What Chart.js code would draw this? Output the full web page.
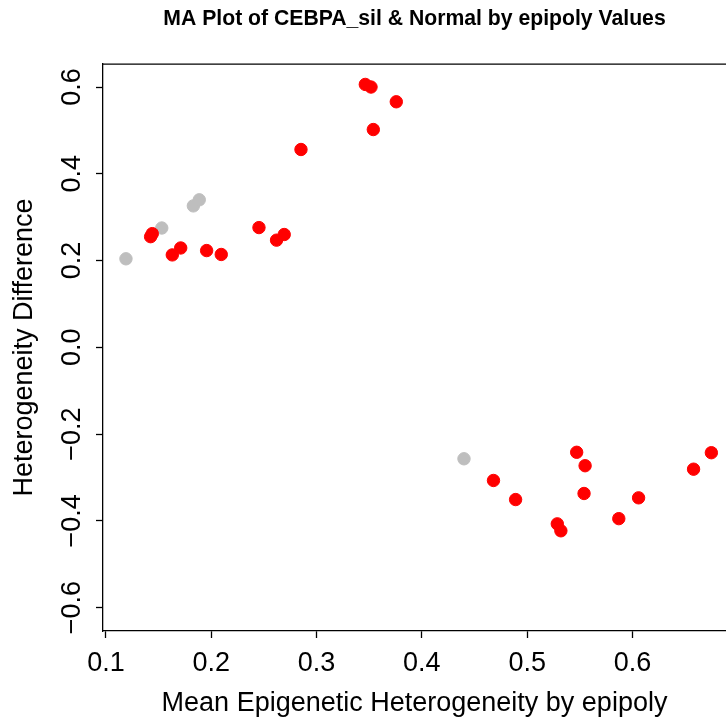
<!DOCTYPE html>
<html>
<head>
<meta charset="utf-8">
<script src="https://cdn.jsdelivr.net/npm/chart.js@4/dist/chart.umd.min.js"></script>
<style>
    html, body { margin: 0; padding: 0; background: #fff; }
    #wrap { width: 726px; height: 720px; }
</style>
</head>
<body>
<div id="wrap"><canvas id="chart" width="726" height="720"></canvas></div>
<script>
// significant probes (red)
const redX = [0.1424, 0.1440, 0.1630, 0.1710, 0.1956, 0.2095, 0.2453, 0.2620, 0.2693, 0.2852,
              0.3463, 0.3517, 0.3757, 0.3539,
              0.4680, 0.4890, 0.5286, 0.5320, 0.5470, 0.5550, 0.5540, 0.5870, 0.6058, 0.6580, 0.6749];
const redY = [0.255, 0.262, 0.213, 0.229, 0.223, 0.214, 0.276, 0.247, 0.260, 0.456,
              0.606, 0.600, 0.566, 0.502,
              -0.307, -0.351, -0.407, -0.423, -0.242, -0.273, -0.337, -0.395, -0.347, -0.281, -0.243];
// non-significant probes (grey)
const greyX = [0.1190, 0.1530, 0.1830, 0.1886, 0.4400];
const greyY = [0.204, 0.275, 0.326, 0.340, -0.257];

const xTicks = [0.1, 0.2, 0.3, 0.4, 0.5, 0.6];
const yTicks = [-0.6, -0.4, -0.2, 0.0, 0.2, 0.4, 0.6];

const FONT = '"Liberation Sans", Arial, Helvetica, sans-serif';

function toPoints(xs, ys) {
    return xs.map((x, i) => ({ x: x, y: ys[i] }));
}

function fmt(v) {
    return v.toFixed(1).replace('-', '\u2212');
}

// top edge of the R style box
const boxPlugin = {
    id: 'box',
    afterDraw(chart) {
        const a = chart.chartArea;
        const ctx = chart.ctx;
        ctx.save();
        ctx.strokeStyle = '#000';
        ctx.lineWidth = 1.3;
        ctx.beginPath();
        ctx.moveTo(a.left, a.top);
        ctx.lineTo(a.right, a.top);
        ctx.stroke();
        ctx.restore();
    }
};

const ctx = document.getElementById('chart').getContext('2d');
new Chart(ctx, {
    type: 'scatter',
    data: {
        datasets: [
            {
                label: 'significant',
                data: toPoints(redX, redY),
                backgroundColor: '#ff0000',
                borderColor: '#ff0000',
                borderWidth: 1,
                pointRadius: 6.2
            },
            {
                label: 'not significant',
                data: toPoints(greyX, greyY),
                backgroundColor: '#bebebe',
                borderColor: '#bebebe',
                borderWidth: 1,
                pointRadius: 6.2
            }
        ]
    },
    options: {
        responsive: false,
        animation: false,
        layout: { padding: 0, autoPadding: false },
        plugins: {
            legend: { display: false },
            tooltip: { enabled: false },
            title: {
                display: true,
                fullSize: false,
                text: 'MA Plot of CEBPA_sil & Normal by epipoly Values',
                color: '#000',
                font: { family: FONT, size: 21.2, weight: 'bold', lineHeight: 1.2 },
                padding: { top: 6, bottom: 32.6 }
            }
        },
        scales: {
            x: {
                type: 'linear',
                min: 0.0972,
                max: 0.6888,
                afterFit: s => { s.height = 89; s.paddingRight = 0; s.paddingLeft = 0; },
                afterBuildTicks: s => { s.ticks = xTicks.map(v => ({ value: v })); },
                ticks: {
                    color: '#000',
                    padding: 9,
                    maxRotation: 0,
                    font: { family: FONT, size: 27 },
                    callback: v => fmt(v)
                },
                grid: {
                    drawOnChartArea: false,
                    tickLength: 7,
                    tickColor: '#000',
                    tickWidth: 1.3
                },
                border: { display: true, color: '#000', width: 1.3 },
                title: {
                    display: true,
                    text: 'Mean Epigenetic Heterogeneity by epipoly',
                    color: '#000',
                    font: { family: FONT, size: 27, lineHeight: 1.2 },
                    padding: { top: 0, bottom: 0 }
                }
            },
            y: {
                type: 'linear',
                min: -0.654,
                max: 0.653,
                afterFit: s => { s.width = 103; s.paddingTop = 0; s.paddingBottom = 0; },
                afterBuildTicks: s => { s.ticks = yTicks.map(v => ({ value: v })); },
                ticks: {
                    color: '#000',
                    padding: -3,
                    minRotation: 90,
                    maxRotation: 90,
                    crossAlign: 'center',
                    font: { family: FONT, size: 27 },
                    callback: v => fmt(v)
                },
                grid: {
                    drawOnChartArea: false,
                    tickLength: 7,
                    tickColor: '#000',
                    tickWidth: 1.3
                },
                border: { display: true, color: '#000', width: 1.3 },
                title: {
                    display: true,
                    text: 'Heterogeneity Difference',
                    color: '#000',
                    font: { family: FONT, size: 27, lineHeight: 1.2 },
                    padding: { top: 8, bottom: 0 }
                }
            }
        }
    },
    plugins: [boxPlugin]
});
</script>
</body>
</html>
